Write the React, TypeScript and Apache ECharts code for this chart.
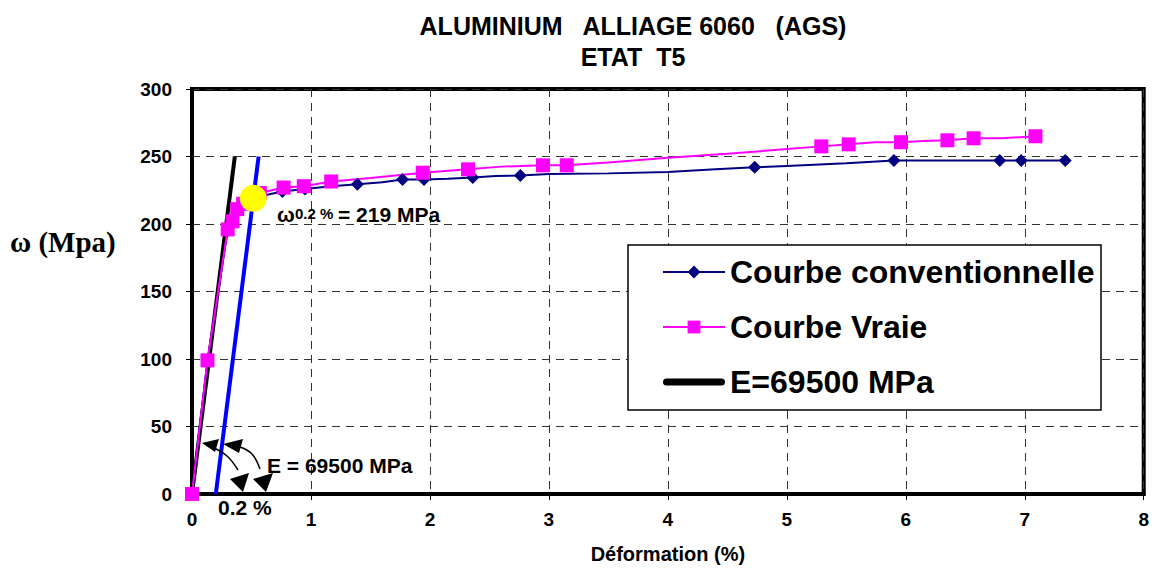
import React, { useEffect, useRef } from "react";
import * as echarts from "echarts";

// ---------- data ----------
const titleLines = ["ALUMINIUM   ALLIAGE 6060   (AGS)", "ETAT  T5"];
const xAxisName = "Déformation (%)";
const yAxisName = "ω (Mpa)";
const seriesNames = ["Courbe conventionnelle", "Courbe Vraie", "E=69500 MPa"];

// Conventional stress-strain curve [strain %, stress MPa]
const conventionalCurve: [number, number][] = [
  [0, 0], [0.13, 99], [0.22, 150], [0.3, 195], [0.34, 203], [0.38, 210],
  [0.45, 216], [0.55, 220], [0.65, 222], [0.76, 224], [0.95, 226],
  [1.17, 228], [1.39, 229.5], [1.6, 231], [1.77, 233], [1.95, 233],
  [2.15, 233.5], [2.36, 234.5], [2.55, 235.5], [2.76, 236], [3.0, 237],
  [3.5, 237.5], [4.0, 238.5], [4.4, 240.5], [4.73, 242], [5.0, 243],
  [5.5, 245], [5.9, 247], [6.79, 247], [6.97, 247], [7.34, 247],
];
const conventionalMeasuredX = [0, 0.13, 0.3, 0.34, 0.38, 0.76, 0.95, 1.39, 1.77, 1.95, 2.36, 2.76, 4.73, 5.9, 6.79, 6.97, 7.34];

// True stress-strain curve
const trueCurve: [number, number][] = [
  [0, 0], [0.13, 99], [0.22, 150], [0.3, 196], [0.34, 202], [0.38, 211],
  [0.43, 215], [0.57, 223], [0.77, 227], [0.94, 228], [1.17, 231.5],
  [1.5, 234], [1.94, 238], [2.1, 239], [2.32, 240.5], [2.6, 242.5],
  [2.95, 243.5], [3.15, 243.5], [3.5, 245.5], [4.0, 249], [4.5, 252],
  [5.0, 255.5], [5.29, 257.5], [5.52, 259], [5.74, 260.5], [5.96, 260.6],
  [6.15, 261.5], [6.35, 262], [6.57, 263.5], [6.8, 263.5], [7.09, 265],
];
const trueMeasuredX = [0, 0.13, 0.3, 0.34, 0.38, 0.43, 0.57, 0.77, 0.94, 1.17, 1.94, 2.32, 2.95, 3.15, 5.29, 5.52, 5.96, 6.35, 6.57, 7.09];

// Elastic line E = 69500 MPa and its 0.2 % offset
const elasticLine: [number, number][] = [[0, 0], [0.36, 250]];
const offsetLine: [number, number][] = [[0.2, 0], [0.56, 250]];
const yieldPoint: [number, number] = [0.515, 219];

// Axis ranges
const xRange = { min: 0, max: 8, interval: 1 };
const yRange = { min: 0, max: 300, interval: 50 };

const FONT = "'Liberation Sans', Arial, sans-serif";
const THICK_LINE_ICON = "path://M3.5,0 L58.5,0 A3.5,3.5 0 0 1 58.5,7 L3.5,7 A3.5,3.5 0 0 1 3.5,0 Z";

function withMarkers(curve: [number, number][], measured: number[]) {
  return curve.map((p) =>
    measured.includes(p[0]) ? { value: p } : { value: p, symbol: "none" }
  );
}

export default function App() {
  const ref = useRef<HTMLDivElement>(null);

  useEffect(() => {
    if (!ref.current) return;
    const chart = echarts.init(ref.current, null, { renderer: "svg" });

    const axisText = { color: "#000", fontSize: 19, fontWeight: "bold" as const, fontFamily: FONT };
    const splitLine = { show: true, lineStyle: { color: "#333", width: 1, type: [8, 6] as any } };

    chart.setOption({
      animation: false,
      backgroundColor: "#fff",
      title: {
        text: titleLines.join("\n"),
        left: 628,
        top: 5,
        textAlign: "center",
        textStyle: { fontSize: 25, fontWeight: "bold", color: "#000", fontFamily: FONT, lineHeight: 31 },
      },
      grid: {
        left: 192, right: 7, top: 89, bottom: 76,
        show: true, borderColor: "#000", borderWidth: 4, backgroundColor: "transparent",
      },
      xAxis: {
        type: "value", ...xRange,
        name: xAxisName, nameLocation: "middle", nameGap: 50,
        nameTextStyle: { color: "#000", fontSize: 20, fontWeight: "bold", fontFamily: FONT },
        axisLine: { show: true, lineStyle: { color: "#000", width: 4 } },
        axisTick: { show: true, length: 6, lineStyle: { color: "#000", width: 1 } },
        axisLabel: { ...axisText, margin: 16 },
        splitLine,
      },
      yAxis: {
        type: "value", ...yRange,
        axisLine: { show: true, lineStyle: { color: "#000", width: 4 } },
        axisTick: { show: true, length: 6, lineStyle: { color: "#000", width: 1 } },
        axisLabel: { ...axisText, margin: 20 },
        splitLine,
      },
      legend: {
        data: [
          { name: seriesNames[0] },
          { name: seriesNames[1] },
          { name: seriesNames[2], icon: THICK_LINE_ICON },
        ],
        orient: "vertical",
        left: 662,
        top: 253,
        padding: 0,
        itemWidth: 62,
        itemHeight: 16,
        itemGap: 17,
        symbolKeepAspect: true,
        z: 10,
        textStyle: { color: "#000", fontSize: 32, fontWeight: "bold", fontFamily: FONT, lineHeight: 38 },
      },
      graphic: [
        { type: "rect", z: 5, shape: { x: 628, y: 245, width: 473, height: 165 }, style: { fill: "#fff", stroke: "#000", lineWidth: 1.5 } },
        { type: "text", x: 10, y: 242, style: { text: yAxisName, fill: "#000", font: "bold 29px 'Liberation Serif', 'Times New Roman', serif", textVerticalAlign: "middle" } },
        { type: "text", x: 277, y: 214, z: 6, style: { text: "ω", fill: "#000", font: `bold 21px ${FONT}`, textVerticalAlign: "middle" } },
        { type: "text", x: 295, y: 213, z: 6, style: { text: "0.2 %", fill: "#000", font: `bold 15px ${FONT}`, textVerticalAlign: "middle" } },
        { type: "text", x: 338, y: 214, z: 6, style: { text: "= 219 MPa", fill: "#000", font: `bold 21px ${FONT}`, textVerticalAlign: "middle" } },
        { type: "text", x: 267, y: 465, z: 6, style: { text: "E = 69500 MPa", fill: "#000", font: `bold 21px ${FONT}`, textVerticalAlign: "middle" } },
        { type: "text", x: 218, y: 507, z: 6, style: { text: "0.2 %", fill: "#000", font: `bold 21px ${FONT}`, textVerticalAlign: "middle" } },
        { type: "polyline", z: 6, shape: { points: [[212, 447], [227, 456], [238, 470]], smooth: 0.4 }, style: { stroke: "#000", lineWidth: 1.5, fill: "none" } },
        { type: "polyline", z: 6, shape: { points: [[240, 447], [252, 454], [260, 469]], smooth: 0.4 }, style: { stroke: "#000", lineWidth: 1.5, fill: "none" } },
        { type: "polygon", z: 6, shape: { points: [[202, 443], [219, 439], [215, 452]] }, style: { fill: "#000" } },
        { type: "polygon", z: 6, shape: { points: [[223, 444], [243, 439], [239, 453]] }, style: { fill: "#000" } },
        { type: "polygon", z: 6, shape: { points: [[230, 479], [249, 473], [243, 492]] }, style: { fill: "#000" } },
        { type: "polygon", z: 6, shape: { points: [[253, 479], [273, 473], [266, 492]] }, style: { fill: "#000" } },
      ],
      series: [
        {
          name: seriesNames[2], type: "line", data: elasticLine, symbol: "none",
          lineStyle: { color: "#000", width: 4 }, itemStyle: { color: "#000" }, z: 2,
        },
        {
          name: seriesNames[0], type: "line", data: withMarkers(conventionalCurve, conventionalMeasuredX),
          symbol: "diamond", symbolSize: 13, showSymbol: true,
          lineStyle: { color: "#000080", width: 2 }, itemStyle: { color: "#000080" }, z: 3,
        },
        {
          name: seriesNames[1], type: "line", data: withMarkers(trueCurve, trueMeasuredX),
          symbol: "rect", symbolSize: 14, showSymbol: true,
          lineStyle: { color: "#FF00FF", width: 2 }, itemStyle: { color: "#FF00FF" }, z: 3,
        },
        {
          name: "Décalage 0.2 %", type: "line", data: offsetLine, symbol: "none",
          lineStyle: { color: "#0000FF", width: 4 }, itemStyle: { color: "#0000FF" }, z: 4,
        },
        {
          name: "ω0.2 %", type: "scatter", data: [yieldPoint], symbolSize: 27,
          itemStyle: { color: "#FFFF00", opacity: 1 }, z: 5,
        },
      ],
    });

    return () => chart.dispose();
  }, []);

  return <div ref={ref} style={{ position: "fixed", left: 0, top: 0, width: 1152, height: 570 }} />;
}
